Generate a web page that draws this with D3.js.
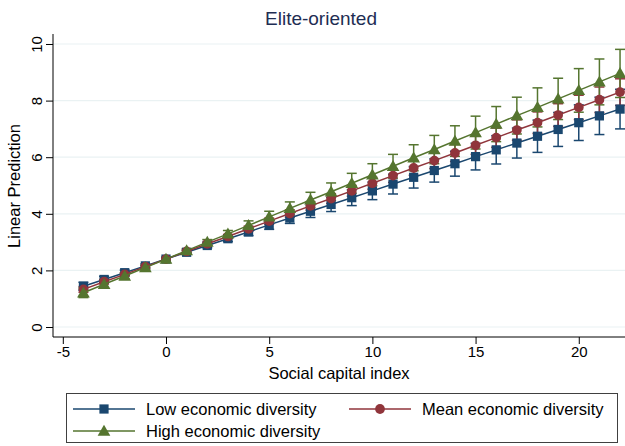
<!DOCTYPE html>
<html>
<head>
<meta charset="utf-8">
<script src="https://cdn.jsdelivr.net/npm/d3@7"></script>
<style>
  body { margin: 0; background: #fff; }
  svg { display: block; font-family: "Liberation Sans", Arial, sans-serif; }
</style>
</head>
<body>
<div id="chart"></div>
<script>
const width = 625;
const height = 446;

// social capital index values
const xs = [-4, -3, -2, -1, 0, 1, 2, 3, 4, 5, 6, 7, 8, 9, 10, 11, 12, 13, 14, 15, 16, 17, 18, 19, 20, 21, 22];

// linear predictions
const lowFit = [1.44, 1.68, 1.92, 2.16, 2.40, 2.64, 2.88, 3.12, 3.36, 3.61, 3.85, 4.09, 4.33, 4.57,
  4.81, 5.05, 5.29, 5.53, 5.77, 6.02, 6.26, 6.50, 6.74, 6.98, 7.22, 7.46, 7.70];
const meanFit = [1.33, 1.60, 1.86, 2.13, 2.40, 2.67, 2.94, 3.20, 3.47, 3.74, 4.01, 4.28, 4.54, 4.81,
  5.08, 5.35, 5.62, 5.88, 6.15, 6.42, 6.69, 6.96, 7.22, 7.49, 7.76, 8.03, 8.30];
const highFit = [1.21, 1.51, 1.80, 2.10, 2.40, 2.70, 3.00, 3.29, 3.59, 3.89, 4.19, 4.49, 4.78, 5.08,
  5.38, 5.68, 5.98, 6.27, 6.57, 6.87, 7.17, 7.47, 7.76, 8.06, 8.36, 8.66, 8.96];

// half widths of the confidence intervals
const lowCI = [0.14, 0.11, 0.09, 0.07, 0.06, 0.07, 0.08, 0.10, 0.13, 0.16, 0.19, 0.22, 0.25, 0.28,
  0.31, 0.35, 0.38, 0.41, 0.44, 0.47, 0.50, 0.53, 0.57, 0.60, 0.63, 0.66, 0.70];
const meanCI = [0.10, 0.08, 0.06, 0.05, 0.05, 0.05, 0.06, 0.07, 0.09, 0.11, 0.13, 0.15, 0.17, 0.19,
  0.21, 0.24, 0.26, 0.28, 0.30, 0.32, 0.34, 0.36, 0.38, 0.40, 0.43, 0.45, 0.47];
const highCI = [0.17, 0.13, 0.10, 0.07, 0.06, 0.07, 0.09, 0.12, 0.16, 0.20, 0.23, 0.27, 0.31, 0.35,
  0.39, 0.42, 0.46, 0.50, 0.54, 0.58, 0.62, 0.65, 0.69, 0.73, 0.77, 0.81, 0.85];

const seriesNames = ['Low economic diversity', 'Mean economic diversity', 'High economic diversity'];
const seriesColors = ['#1a476f', '#90353b', '#55752f'];
const seriesShapes = [d3.symbolSquare, d3.symbolCircle, d3.symbolTriangle];
const xTicks = [-5, 0, 5, 10, 15, 20];
const yTicks = [0, 2, 4, 6, 8, 10];

const series = [
  { fit: lowFit, ci: lowCI },
  { fit: meanFit, ci: meanCI },
  { fit: highFit, ci: highCI }
].map((s, i) => ({
  name: seriesNames[i],
  color: seriesColors[i],
  shape: seriesShapes[i],
  points: xs.map((x, j) => ({ x: x, y: s.fit[j], lo: s.fit[j] - s.ci[j], hi: s.fit[j] + s.ci[j] }))
}));

const plot = { left: 53, right: 625, top: 34, bottom: 337 };

const x = d3.scaleLinear().domain([-5.475, 22.24]).range([plot.left, plot.right]);
const y = d3.scaleLinear().domain([-0.353, 10.353]).range([plot.bottom, plot.top]);

const svg = d3.select('#chart')
  .append('svg')
  .attr('width', width)
  .attr('height', height);

svg.append('rect').attr('width', width).attr('height', height).attr('fill', '#fff');

// title
svg.append('text')
  .attr('x', 321)
  .attr('y', 25)
  .attr('text-anchor', 'middle')
  .attr('font-size', 19)
  .attr('fill', '#1e2d53')
  .text('Elite-oriented');

// gridlines
svg.append('g')
  .selectAll('line')
  .data(yTicks)
  .enter().append('line')
  .attr('x1', plot.left)
  .attr('x2', plot.right)
  .attr('y1', (d) => y(d))
  .attr('y2', (d) => y(d))
  .attr('stroke', '#eaf2f3')
  .attr('stroke-width', 1.2);

// y axis
const yAxis = svg.append('g')
  .attr('transform', `translate(${plot.left},0)`)
  .call(d3.axisLeft(y).tickValues(yTicks).tickSize(7).tickSizeOuter(0).tickFormat(d3.format('d')));
yAxis.select('.domain').attr('d', `M0,${plot.top}V${plot.bottom}`).attr('stroke', '#000');
yAxis.selectAll('.tick line').attr('stroke', '#000');
yAxis.selectAll('.tick text')
  .attr('x', 0)
  .attr('y', 0)
  .attr('dy', null)
  .attr('text-anchor', 'middle')
  .attr('dominant-baseline', 'central')
  .attr('transform', 'translate(-17,0) rotate(-90)')
  .attr('font-size', 15)
  .attr('font-family', '"Liberation Sans", Arial, sans-serif')
  .attr('fill', '#000');

// x axis
const xAxis = svg.append('g')
  .attr('transform', `translate(0,${plot.bottom})`)
  .call(d3.axisBottom(x).tickValues(xTicks).tickSize(7).tickSizeOuter(0).tickFormat(d3.format('d')));
xAxis.select('.domain').attr('d', `M${plot.left},0H${plot.right}`).attr('stroke', '#000');
xAxis.selectAll('.tick line').attr('stroke', '#000');
xAxis.selectAll('.tick text')
  .attr('y', 9)
  .attr('dy', '0.71em')
  .attr('font-size', 15)
  .attr('font-family', '"Liberation Sans", Arial, sans-serif')
  .attr('fill', '#000')
  .text((d) => d < 0 ? '-' + Math.abs(d) : d);

// axis titles
svg.append('text')
  .attr('x', 339)
  .attr('y', 379)
  .attr('text-anchor', 'middle')
  .attr('font-size', 16.5)
  .text('Social capital index');

svg.append('text')
  .attr('transform', 'translate(20,186) rotate(-90)')
  .attr('text-anchor', 'middle')
  .attr('font-size', 16.5)
  .text('Linear Prediction');

// confidence intervals
const capW = 5;
series.forEach((s) => {
  const g = svg.append('g')
    .attr('stroke', s.color)
    .attr('stroke-width', 1.5)
    .attr('fill', 'none');
  const ci = g.selectAll('g')
    .data(s.points)
    .enter().append('g');
  ci.append('line')
    .attr('x1', (d) => x(d.x)).attr('x2', (d) => x(d.x))
    .attr('y1', (d) => y(d.lo)).attr('y2', (d) => y(d.hi));
  ci.append('line')
    .attr('x1', (d) => x(d.x) - capW).attr('x2', (d) => x(d.x) + capW)
    .attr('y1', (d) => y(d.lo)).attr('y2', (d) => y(d.lo));
  ci.append('line')
    .attr('x1', (d) => x(d.x) - capW).attr('x2', (d) => x(d.x) + capW)
    .attr('y1', (d) => y(d.hi)).attr('y2', (d) => y(d.hi));
});

// lines and markers
const line = d3.line().x((d) => x(d.x)).y((d) => y(d.y));
const symbolSize = [85, 75, 70];
series.forEach((s, i) => {
  svg.append('path')
    .datum(s.points)
    .attr('d', line)
    .attr('fill', 'none')
    .attr('stroke', s.color)
    .attr('stroke-width', 1.5);
  svg.append('g')
    .selectAll('path')
    .data(s.points)
    .enter().append('path')
    .attr('transform', (d) => `translate(${x(d.x)},${y(d.y) + (i === 2 ? 1 : 0)})`)
    .attr('d', d3.symbol().type(s.shape).size(symbolSize[i]))
    .attr('fill', s.color);
});

// legend
const legend = svg.append('g');
legend.append('rect')
  .attr('x', 66.5)
  .attr('y', 393.5)
  .attr('width', 551)
  .attr('height', 49)
  .attr('fill', '#fff')
  .attr('stroke', '#404040')
  .attr('stroke-width', 1);

const legendPos = [
  { x: 73, y: 409 },
  { x: 349, y: 409 },
  { x: 73, y: 431 }
];

const legendElem = legend.selectAll('g.item')
  .data(series)
  .enter().append('g')
  .attr('class', 'item')
  .attr('transform', (d, i) => `translate(${legendPos[i].x},${legendPos[i].y})`);

legendElem.append('line')
  .attr('x1', 0).attr('x2', 62)
  .attr('y1', 0).attr('y2', 0)
  .attr('stroke', (d) => d.color)
  .attr('stroke-width', 1.5);

legendElem.append('path')
  .attr('transform', (d, i) => `translate(31,${i === 2 ? 1 : 0})`)
  .attr('d', (d, i) => d3.symbol().type(d.shape).size(symbolSize[i])())
  .attr('fill', (d) => d.color);

legendElem.append('text')
  .attr('x', 73)
  .attr('y', 0)
  .attr('dominant-baseline', 'central')
  .attr('font-size', 16.5)
  .text((d) => d.name);
</script>
</body>
</html>
